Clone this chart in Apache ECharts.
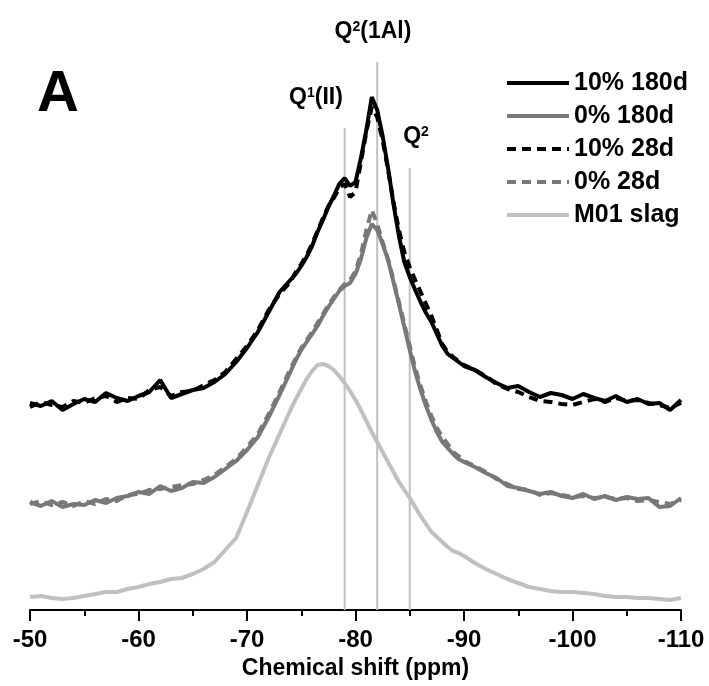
<!DOCTYPE html>
<html>
<head>
<meta charset="utf-8">
<script src="https://cdn.jsdelivr.net/npm/echarts@6/dist/echarts.min.js"></script>
<style>
html,body{margin:0;padding:0;background:#fff;}
#chart{width:709px;height:686px;}
</style>
</head>
<body>
<div id="chart"></div>
<script>
// Chemical shift (ppm) sample points
const shifts = [
  -50,-51,-52,-53,-54,-55,-56,-57,-58,-59,-60,-61,-62,-63,-64,-65,-66,-67,-68,-69,-70,-71,-72,-73,
  -74,-74.5,-75,-75.5,-76,-76.5,-77,-77.5,-78,-78.5,-79,-79.5,-80,-80.5,-81,-81.5,-82,-82.5,-83,-83.5,-84,-84.5,-85,-85.5,-86,-86.5,-87,-87.5,-88,-88.5,-89,-89.5,-90,
  -91,-92,-93,-94,-95,-96,-97,-98,-99,-100,-101,-102,-103,-104,-105,-106,-107,-108,-109,-110
];
// Stacked intensities (arbitrary units, vertically offset as in the figure)
const tenPct180d = [
  199,196,201,192,198,203,200,209,204,201,206,210,222,204,208,212,214,220,228,240,254,270,290,310,
  322,328,336,345,356,370,382,395,406,418,424,416,420,444,472,505,492,466,434,398,366,340,325,312,300,289,280,268,256,248,244,240,236,
  232,225,219,214,216,210,205,209,207,203,208,204,201,206,200,203,198,199,192,202
];
const zeroPct180d = [
  100,96,101,95,98,97,102,99,104,106,110,108,116,111,114,120,119,125,133,141,152,165,185,207,
  230,242,252,260,268,276,286,295,303,311,316,319,328,343,364,378,372,358,342,320,298,275,252,230,212,196,182,170,160,154,148,143,140,
  135,129,124,116,114,111,108,110,106,104,108,103,106,102,105,103,104,95,96,104
];
const tenPct28d = [
  195,200,197,195,201,199,204,206,200,204,203,212,215,206,210,211,217,222,230,243,256,272,292,308,
  320,330,338,347,358,371,384,396,404,414,418,405,410,440,470,495,485,462,432,400,372,350,335,322,310,298,286,272,258,250,245,241,237,
  232,226,218,213,210,205,201,200,198,197,200,203,200,204,201,202,199,197,194,199
];
const zeroPct28d = [
  98,101,97,100,96,101,98,103,101,107,108,112,113,115,117,118,122,127,135,143,155,168,188,210,
  233,244,254,262,270,279,288,297,305,312,318,322,331,348,372,392,378,360,343,322,300,278,256,234,216,200,186,174,165,158,150,146,141,
  136,130,123,118,113,112,107,109,107,105,106,104,105,103,104,101,102,100,98,102
];
const m01Slag = [
  5,6,4,3,4,6,8,10,10,13,15,18,20,23,24,28,33,40,52,64,90,117,144,168,
  192,203,213,223,231,237,238,236,232,226,219,211,202,192,181,170,160,150,140,130,120,112,104,95,86,78,70,65,60,55,51,49,46,
  39,33,28,23,19,15,13,11,10,10,9,8,6,5,5,4,4,3,2,4
];
// Reference peak positions and heights of the marker lines
const refShifts = [-79, -82, -85];
const refTops = [474, 540, 434];
const xTicks = { min: -110, max: -50, interval: 10 };

const seriesDefs = [
  { name: 'M01 slag', vals: m01Slag, color: '#c0c0c0', type: 'solid' },
  { name: '0% 28d', vals: zeroPct28d, color: '#787878', type: [9, 6] },
  { name: '0% 180d', vals: zeroPct180d, color: '#787878', type: 'solid' },
  { name: '10% 28d', vals: tenPct28d, color: '#000000', type: [9, 6] },
  { name: '10% 180d', vals: tenPct180d, color: '#000000', type: 'solid' }
];
const legendOrder = ['10% 180d', '0% 180d', '10% 28d', '0% 28d', 'M01 slag'];

const FONT = 'Arial, "Liberation Sans", sans-serif';
const series = [];
refShifts.forEach((x, i) => {
  series.push({
    name: 'ref' + i, type: 'line', silent: true, symbol: 'none', z: 1,
    data: [[x, -8], [x, refTops[i]]],
    lineStyle: { color: '#c0c0c0', width: 2 }
  });
});
seriesDefs.forEach(s => {
  series.push({
    name: s.name, type: 'line', symbol: 'none', z: 3,
    data: shifts.map((x, i) => [x, s.vals[i]]),
    lineStyle: { color: s.color, width: 4, type: s.type },
    itemStyle: { color: s.color }
  });
});

const richLbl = {
  b: { fontFamily: FONT, fontWeight: 'bold', fontSize: 23, color: '#000' },
  s: { fontFamily: FONT, fontWeight: 'bold', fontSize: 14, color: '#000', verticalAlign: 'top' }
};

const chart = echarts.init(document.getElementById('chart'), null, { renderer: 'canvas' });
chart.setOption({
  animation: false,
  backgroundColor: '#fff',
  grid: { left: 30, right: 28, top: 60, bottom: 76 },
  xAxis: {
    type: 'value', min: xTicks.min, max: xTicks.max, interval: xTicks.interval, inverse: true,
    name: 'Chemical shift (ppm)', nameLocation: 'middle', nameGap: 44,
    nameTextStyle: { fontFamily: FONT, fontWeight: 'bold', fontSize: 23, color: '#000' },
    axisLine: { onZero: false, lineStyle: { color: '#000', width: 2 } },
    axisTick: { show: true, length: 11, lineStyle: { color: '#000', width: 2 } },
    minorTick: { show: true, splitNumber: 2, length: 6, lineStyle: { color: '#000', width: 2 } },
    axisLabel: { fontFamily: FONT, fontWeight: 'bold', fontSize: 24, color: '#000', margin: 18 },
    splitLine: { show: false }
  },
  yAxis: { type: 'value', min: -8, max: 542, show: false },
  legend: {
    data: legendOrder, orient: 'vertical', left: 500, top: 65,
    itemWidth: 62, itemHeight: 14, itemGap: 7,
    itemStyle: { opacity: 0 },
    lineStyle: { width: 4 },
    textStyle: { fontFamily: FONT, fontWeight: 'bold', fontSize: 25, color: '#000', lineHeight: 26 }
  },
  graphic: [
    { type: 'text', left: 37, top: 66, style: { text: 'A', font: 'bold 58px ' + FONT, fill: '#000' } },
    { type: 'text', x: 373, y: 32, style: { text: '{b|Q}{s|2}{b|(1Al)}', rich: richLbl, textAlign: 'center', textVerticalAlign: 'middle' } },
    { type: 'text', x: 316, y: 98, style: { text: '{b|Q}{s|1}{b|(II)}', rich: richLbl, textAlign: 'center', textVerticalAlign: 'middle' } },
    { type: 'text', x: 416, y: 137, style: { text: '{b|Q}{s|2}', rich: richLbl, textAlign: 'center', textVerticalAlign: 'middle' } }
  ],
  series: series
});
</script>
</body>
</html>
